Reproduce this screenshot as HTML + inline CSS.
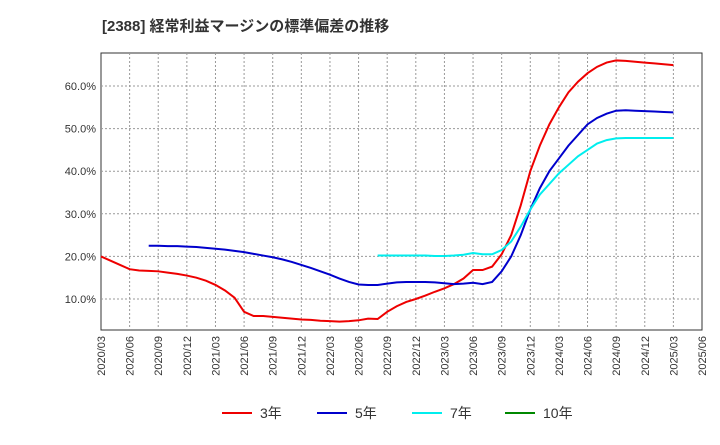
<!DOCTYPE html>
<html><head><meta charset="utf-8"><style>
body{margin:0;background:#fff;font-family:"Liberation Sans","Noto Sans CJK JP",sans-serif}
</style></head><body>
<svg width="720" height="440" xmlns="http://www.w3.org/2000/svg">
<text x="102" y="31" font-size="15" font-weight="bold" fill="#333">[2388]  経常利益マージンの標準偏差の推移</text>
<rect x="101" y="53" width="601" height="277" fill="#fff" stroke="#333" stroke-width="1"/>
<g id="grid"></g><g id="axes"></g><g id="series"></g>
<g font-size="14" fill="#333">
<line x1="222" y1="413" x2="252" y2="413" stroke="#e00" stroke-width="2"/><text x="260" y="418">3年</text>
<line x1="317" y1="413" x2="347" y2="413" stroke="#00c" stroke-width="2"/><text x="355" y="418">5年</text>
<line x1="412" y1="413" x2="442" y2="413" stroke="#0ee" stroke-width="2"/><text x="450" y="418">7年</text>
<line x1="505" y1="413" x2="535" y2="413" stroke="#080" stroke-width="2"/><text x="543" y="418">10年</text>
</g>
</svg>
<script>
const xLabels=["2020/03","2020/06","2020/09","2020/12","2021/03","2021/06","2021/09","2021/12","2022/03","2022/06","2022/09","2022/12","2023/03","2023/06","2023/09","2023/12","2024/03","2024/06","2024/09","2024/12","2025/03","2025/06"];
const yTicks=[10,20,30,40,50,60];
// monthly values, month 0 = 2020/03
const s3Start=0;
const s3=[20,19,18,17,16.7,16.6,16.5,16.2,15.9,15.5,15,14.3,13.3,12,10.3,7,6,6,5.8,5.6,5.4,5.2,5.1,4.9,4.8,4.7,4.8,5,5.4,5.3,7,8.3,9.3,10,10.8,11.7,12.5,13.5,14.8,16.8,16.8,17.6,20.5,25,32,40,46,51,55,58.5,61,63,64.5,65.5,66,65.9,65.7,65.5,65.3,65.1,64.9];
const s5Start=5;
const s5=[22.5,22.5,22.4,22.4,22.3,22.2,22,21.8,21.6,21.3,21,20.6,20.2,19.8,19.3,18.7,18,17.3,16.5,15.7,14.8,14,13.4,13.3,13.3,13.6,13.9,14,14,14,13.9,13.7,13.5,13.6,13.8,13.5,14,16.5,20,25,31,36,40,43,46,48.5,51,52.5,53.5,54.2,54.3,54.2,54.1,54,53.9,53.8];
const s7Start=29;
const s7=[20.2,20.2,20.2,20.2,20.2,20.2,20.1,20.1,20.2,20.4,20.8,20.5,20.5,21.5,23.5,27,31,34.5,37,39.5,41.5,43.5,45,46.5,47.3,47.7,47.8,47.8,47.8,47.8,47.8,47.8];
const X0=101,X1=702,Y0=330,Y1=53;
const xs=m=>X0+(X1-X0)*m/63;
const ys=v=>341.6-v*(341.6-86)/60;
const NS="http://www.w3.org/2000/svg";
function mk(t,a,p){const e=document.createElementNS(NS,t);for(const k in a)e.setAttribute(k,a[k]);p.appendChild(e);return e;}
const grid=document.getElementById('grid'),axes=document.getElementById('axes'),ser=document.getElementById('series');
xLabels.forEach((l,i)=>{const x=xs(i*3);
 if(i>0&&i<xLabels.length-1){const g=mk('line',{x1:x,y1:Y1,x2:x,y2:Y0,stroke:'#999','stroke-dasharray':'2,2'},grid);
 
 }
 const t=mk('text',{x:0,y:0,'font-size':11,fill:'#333','text-anchor':'end',transform:`translate(${x+4},${Y0+6}) rotate(-90)`},axes);
 t.textContent=l;
 
 });
yTicks.forEach(v=>{const y=ys(v);
 const g=mk('line',{x1:X0,y1:y,x2:X1,y2:y,stroke:'#999','stroke-dasharray':'2,2'},grid);
 
 
 const t=mk('text',{x:X0-5,y:y+4,'font-size':11,fill:'#333','text-anchor':'end'},axes);
 t.textContent=v.toFixed(1)+'%';
 
 });
function line(arr,start,col,name){const p=mk('polyline',{points:arr.map((v,i)=>xs(start+i)+','+ys(v)).join(' '),fill:'none',stroke:col,'stroke-width':2},ser);
 
 }
line(s3,s3Start,'#e00','series-3y');
line(s5,s5Start,'#00c','series-5y');
line(s7,s7Start,'#0ee','series-7y');
</script>
</body></html>
